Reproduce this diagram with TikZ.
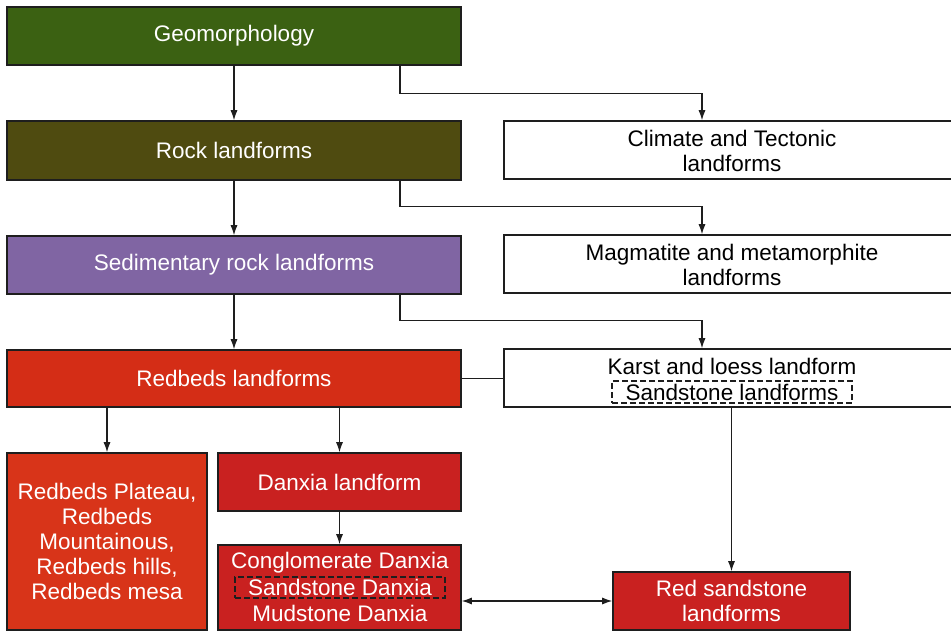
\documentclass[tikz,border=0pt]{standalone}
\usepackage{fontspec}
\setmainfont{Liberation Sans}
\usetikzlibrary{arrows.meta}
\definecolor{cgeo}{HTML}{3B6112}
\definecolor{crock}{HTML}{4F4B10}
\definecolor{csed}{HTML}{8065A3}
\definecolor{cred}{HTML}{D42D16}
\definecolor{cplat}{HTML}{D83419}
\definecolor{cdanx}{HTML}{C92120}
\definecolor{cbord}{HTML}{1E1E1E}
\tikzset{
  boxnode/.style={draw=cbord, line width=1.6pt, inner sep=0pt, text=white, align=center,
    font=\fontsize{22.5}{25}\selectfont},
  whitebox/.style={boxnode, fill=white, text=black},
  txt/.style={inner sep=0pt, align=center, font=\fontsize{22.5}{25}\selectfont},
  dashbox/.style={txt, draw=cbord, dashed, dash pattern=on 6pt off 3pt, line width=1.1pt},
  arr/.style={draw=cbord, line width=1.1pt, -{Latex[length=10pt,width=7pt]}},
  darr/.style={draw=cbord, line width=1.1pt, {Latex[length=10pt,width=7pt]}-{Latex[length=10pt,width=7pt]}},
  plain/.style={draw=cbord, line width=1.1pt}
}
\begin{document}
\begin{tikzpicture}[x=1pt,y=-1pt]
\useasboundingbox (0,0) rectangle (951,631);
\fill[white] (0,0) rectangle (951,631);
% left column
\node[boxnode, fill=cgeo, minimum width=454pt, minimum height=58pt] (geo) at (234,36) {\raisebox{-2pt}{Geomorphology}};
\node[boxnode, fill=crock, minimum width=454pt, minimum height=59pt] (rock) at (234,150.5) {\raisebox{-1.5pt}{Rock landforms}};
\node[boxnode, fill=csed, minimum width=454pt, minimum height=58pt] (sed) at (234,265) {Sedimentary rock landforms};
\node[boxnode, fill=cred, minimum width=454pt, minimum height=57pt] (red) at (234,378.5) {Redbeds landforms};
\node[boxnode, fill=cplat, minimum width=200pt, minimum height=177pt] (plat) at (107,541.5) {Redbeds Plateau,\\Redbeds\\Mountainous,\\Redbeds hills,\\Redbeds mesa};
\node[boxnode, fill=cdanx, minimum width=243pt, minimum height=58pt] (danx) at (339.5,482) {Danxia landform};
\node[boxnode, fill=cdanx, minimum width=243pt, minimum height=85pt] (cong) at (339.5,587.5) {};
\node[txt, text=white] (cong1) at (340,563) {Conglomerate Danxia};
\node[dashbox, text=white, minimum width=210pt, minimum height=21pt] (cong2) at (340,587.5) {Sandstone Danxia};
\node[txt, text=white] (cong3) at (340,613) {Mudstone Danxia};
% right column
\node[whitebox, minimum width=455pt, minimum height=58pt] (clim) at (731.5,150) {};
\node[txt] (climt) at (732,151) {Climate and Tectonic\\landforms};
\node[whitebox, minimum width=455pt, minimum height=58pt] (mag) at (731.5,264) {};
\node[txt] (magt) at (732,265) {Magmatite and metamorphite\\landforms};
\node[whitebox, minimum width=455pt, minimum height=58pt] (karst) at (731.5,378) {};
\node[txt] (karst1) at (732,366) {Karst and loess landform};
\node[dashbox, minimum width=240pt, minimum height=22pt] (karst2) at (732,392) {Sandstone landforms};
\node[boxnode, fill=cdanx, minimum width=237pt, minimum height=58pt] (rs) at (731.5,601) {Red sandstone\\landforms};
% helper coordinates
\coordinate (bx) at (400,0);
\coordinate (ax) at (702,0);
% connectors
\draw[arr] (geo) -- (rock);
\draw[arr] (rock) -- (sed);
\draw[arr] (sed) -- (red);
\draw[arr] (geo.south -| bx) -- ++(0,28) -| (clim.north -| ax);
\draw[arr] (rock.south -| bx) -- ++(0,25.5) -| (mag.north -| ax);
\draw[arr] (sed.south -| bx) -- ++(0,26) -| (karst.north -| ax);
\draw[plain] (red.east) -- (red.east -| karst.west);
\draw[arr] (red.south -| plat.north) -- (plat.north);
\draw[arr] (red.south -| danx.north) -- (danx.north);
\draw[arr] (danx) -- (cong);
\draw[arr] (karst.south -| rs.north) -- (rs.north);
\draw[darr] (cong.east |- rs.west) -- (rs.west);
\end{tikzpicture}
\end{document}
